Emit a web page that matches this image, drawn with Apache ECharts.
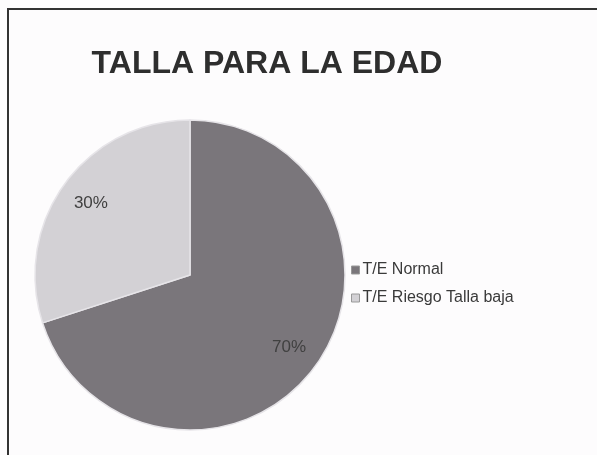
<!DOCTYPE html>
<html>
<head>
<meta charset="utf-8">
<script src="https://cdn.jsdelivr.net/npm/echarts@6/dist/echarts.min.js"></script>
<style>
html, body { margin: 0; padding: 0; background: #fdfcfd; }
#chart { width: 597px; height: 455px; }
</style>
</head>
<body>
<div id="chart"></div>
<script>
// datos
const categorias = ['T/E Normal', 'T/E Riesgo Talla baja'];
const porcentajes = [70, 30];
const colores = ['#7a767b', '#d3d1d5'];

const chart = echarts.init(document.getElementById('chart'));

const datos = categorias.map((c, i) => ({
	name: c,
	value: porcentajes[i],
	itemStyle: { color: colores[i] }
}));

chart.setOption({
	backgroundColor: '#fdfcfd',
	animation: false,
	title: {
		text: 'TALLA PARA LA EDAD',
		left: 262,
		textAlign: 'center',
		top: 43,
		textStyle: {
			fontFamily: 'Liberation Sans',
			fontWeight: 'bold',
			fontSize: 32,
			color: '#2e2e2e'
		}
	},
	legend: {
		orient: 'vertical',
		left: 346,
		top: 257,
		itemWidth: 8,
		itemHeight: 8,
		itemGap: 12,
		icon: 'rect',
		itemStyle: { borderColor: '#999', borderWidth: 1 },
		textStyle: {
			fontFamily: 'Liberation Sans',
			fontSize: 16,
			color: '#3a3a3a',
			padding: [0, 0, 0, -2]
		},
		data: categorias
	},
	graphic: [{
		// marco del gráfico
		type: 'rect',
		shape: { x: 8, y: 9, width: 620, height: 480 },
		style: { fill: 'none', stroke: '#333', lineWidth: 2 },
		silent: true
	}],
	series: [
		{
			type: 'pie',
			center: [190, 275],
			radius: 155,
			startAngle: 90,
			clockwise: true,
			label: { show: false },
			labelLine: { show: false },
			itemStyle: { borderColor: '#e6e4e8', borderWidth: 1.5 },
			data: datos
		},
		{
			// anillo transparente solo para colocar las etiquetas
			type: 'pie',
			center: [190, 275],
			radius: [84, 155],
			startAngle: 90,
			clockwise: true,
			silent: true,
			legendHoverLink: false,
			itemStyle: { color: 'rgba(0,0,0,0)' },
			label: {
				show: true,
				position: 'inside',
				formatter: '{d}%',
				fontFamily: 'Liberation Sans',
				fontSize: 17,
				color: '#404040'
			},
			labelLine: { show: false },
			data: categorias.map((c, i) => ({ name: c + ' ', value: porcentajes[i] }))
		}
	]
});
</script>
</body>
</html>
